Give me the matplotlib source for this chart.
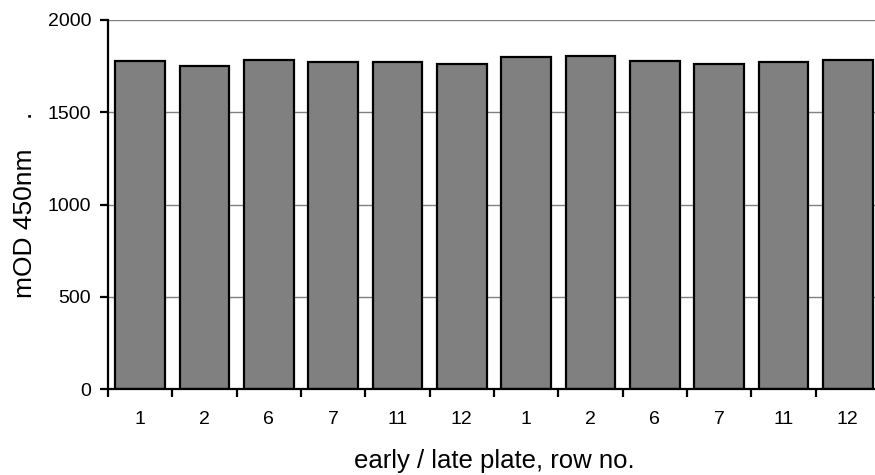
import matplotlib

matplotlib.use("Agg")
import matplotlib.pyplot as plt
import numpy as np
from matplotlib.ticker import FixedLocator

plt.rcParams["font.family"] = ["Liberation Sans", "DejaVu Sans"]

# early plate rows then late plate rows
row_labels = ["1", "2", "6", "7", "11", "12", "1", "2", "6", "7", "11", "12"]
mod_450 = [1778, 1753, 1785, 1772, 1770, 1761, 1798, 1805, 1776, 1761, 1772, 1781]

BAR_COLOR = "#808080"
GRID_COLOR = "#808080"

fig = plt.figure(figsize=(8.75, 4.75), dpi=100)
# axes runs a little past the right edge, as in the original export
ax = fig.add_axes([108 / 875, 86 / 475, 772 / 875, 369 / 475])

x = np.arange(len(mod_450))
ax.bar(x, mod_450, width=0.77, color=BAR_COLOR, edgecolor="black",
       linewidth=1.6, zorder=3)

ax.set_xlim(-0.5, len(mod_450) - 0.5)
ax.set_ylim(0, 2000)
ax.set_yticks([0, 500, 1000, 1500, 2000])
ax.yaxis.grid(True, color=GRID_COLOR, linewidth=1.0, zorder=0)

ax.set_xticks(x)
ax.set_xticklabels(row_labels)
ax.xaxis.set_minor_locator(FixedLocator(np.arange(-0.5, len(mod_450), 1.0)))
ax.tick_params(axis="x", which="major", length=0, pad=16, labelsize=14)
ax.tick_params(axis="x", which="minor", length=5.5, width=1.6, direction="out")
ax.tick_params(axis="y", length=6, width=1.6, pad=6, labelsize=14)

for side in ("top", "right"):
    ax.spines[side].set_visible(False)
ax.spines["left"].set_linewidth(1.6)
ax.spines["bottom"].set_linewidth(1.6)
ax.spines["bottom"].set_zorder(4)

ax.set_xlabel("early / late plate, row no.", fontsize=18.5, labelpad=15)
ax.set_ylabel("mOD 450nm    .", fontsize=19, labelpad=8)

fig.savefig("out.png", dpi=100)
